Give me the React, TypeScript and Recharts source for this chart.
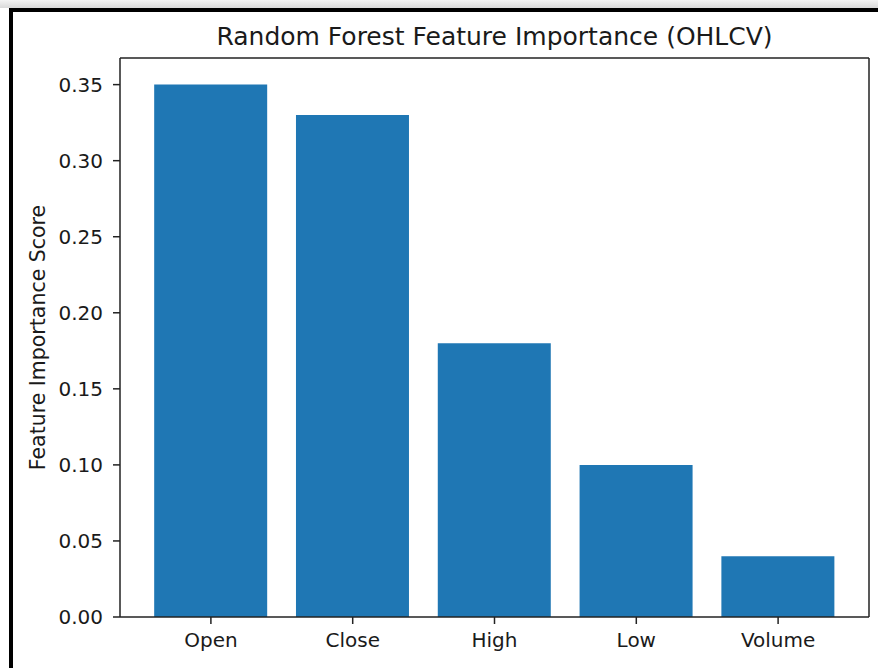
import React from 'react';
import { BarChart, Bar, XAxis, YAxis } from 'recharts';

const categories = ['Open', 'Close', 'High', 'Low', 'Volume'];
const importance = [0.35, 0.33, 0.18, 0.1, 0.04];
const yTicks = [0, 0.05, 0.1, 0.15, 0.2, 0.25, 0.3, 0.35];
const yMax = 0.3675;
const title = 'Random Forest Feature Importance (OHLCV)';
const yLabel = 'Feature Importance Score';

const data = categories.map((c, i) => ({ feature: c, score: importance[i] }));

const FONT = '"DejaVu Sans", sans-serif';
const INK = '#1a1a1a';
const AXIS = { stroke: '#222', strokeWidth: 1.5 };

const renderTitle = (props: any) => {
  const vb = props.viewBox || {};
  const cx = (vb.x ?? 0) + (vb.width ?? 0) / 2;
  const y = (vb.y ?? 0) + (vb.height ?? 0) - 13;
  return (
    <text x={cx} y={y} textAnchor="middle" fontFamily={FONT} fontSize={25} fill={INK}>
      {title}
    </text>
  );
};

const renderYLabel = (props: any) => {
  const vb = props.viewBox || {};
  const cy = (vb.y ?? 0) + (vb.height ?? 0) / 2;
  const x = 45;
  return (
    <text
      x={x}
      y={cy}
      textAnchor="middle"
      transform={`rotate(-90, ${x}, ${cy})`}
      fontFamily={FONT}
      fontSize={20.5}
      fill={INK}
    >
      {yLabel}
    </text>
  );
};

export default function App() {
  return (
    <div style={{ position: 'absolute', left: 0, top: 0, width: 878, height: 668, background: '#fff', overflow: 'hidden' }}>
      <div style={{ position: 'absolute', left: 0, top: 0, width: 878, height: 8, background: 'linear-gradient(#f3f3f3, #d9d9d9)' }} />
      <div style={{ position: 'absolute', left: 9, top: 8, width: 869, height: 4, background: '#000' }} />
      <div style={{ position: 'absolute', left: 9, top: 8, width: 4, height: 660, background: '#000' }} />
      <div style={{ position: 'absolute', left: 0, top: 0 }}>
        <BarChart
          width={878}
          height={668}
          data={data}
          margin={{ top: 57, right: 8, bottom: 0, left: 0 }}
          barCategoryGap="10%"
        >
          <XAxis
            dataKey="feature"
            height={51}
            padding={{ left: 20, right: 20 }}
            axisLine={AXIS}
            tickLine={AXIS}
            tickSize={7}
            tickMargin={9}
            tick={{ fontFamily: FONT, fontSize: 20, fill: INK }}
            interval={0}
          />
          <XAxis
            xAxisId="top"
            orientation="top"
            dataKey="feature"
            height={1}
            padding={{ left: 20, right: 20 }}
            axisLine={AXIS}
            tick={false}
            tickLine={false}
            label={renderTitle}
          />
          <YAxis
            type="number"
            domain={[0, yMax]}
            ticks={yTicks}
            width={120}
            axisLine={AXIS}
            tickLine={AXIS}
            tickSize={7}
            tickMargin={10}
            tickFormatter={(v: number) => v.toFixed(2)}
            tick={{ fontFamily: FONT, fontSize: 20, fill: INK }}
            label={renderYLabel}
            allowDataOverflow
          />
          <YAxis
            yAxisId="right"
            orientation="right"
            type="number"
            domain={[0, yMax]}
            width={1}
            axisLine={AXIS}
            tick={false}
            tickLine={false}
          />
          <Bar dataKey="score" fill="#1f77b4" isAnimationActive={false} />
        </BarChart>
      </div>
    </div>
  );
}
